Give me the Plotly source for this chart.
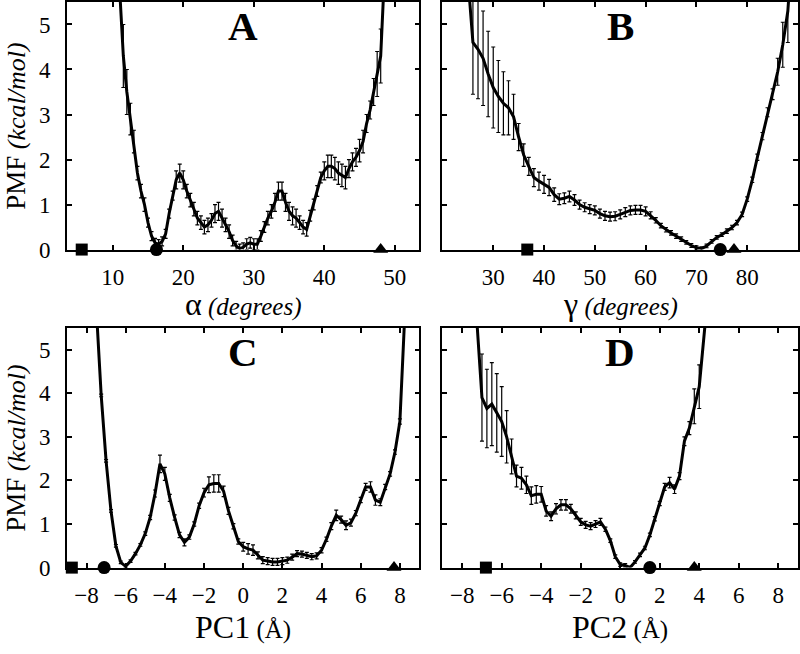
import plotly.graph_objects as go

# ---------------- data ----------------
alpha_x = [10.9, 11.5, 12.0, 12.5, 13.0, 13.5, 14.0, 14.5, 15.0, 15.5, 16.0, 16.5, 17.0, 17.5,
           18.0, 18.5, 19.0, 19.5, 20.0, 20.5, 21.0, 21.5, 22.0, 22.5, 23.0, 23.5, 24.0, 24.5,
           25.0, 25.5, 26.0, 26.5, 27.0, 27.5, 28.0, 28.5, 29.0, 29.5, 30.0, 30.5, 31.0, 31.5,
           32.0, 32.5, 33.0, 33.5, 34.0, 34.5, 35.0, 35.5, 36.0, 36.5, 37.0, 37.5, 38.0, 38.5,
           39.0, 39.5, 40.0, 40.5, 41.0, 41.5, 42.0, 42.5, 43.0, 43.5, 44.0, 44.5, 45.0, 45.5,
           46.0, 46.5, 47.0, 47.5, 48.0, 48.5]
alpha_pmf = [6.0, 4.3, 3.5, 2.9, 2.4, 1.7, 1.3, 1.0, 0.6, 0.3, 0.15, 0.12, 0.18, 0.35,
             0.8, 1.2, 1.55, 1.7, 1.55, 1.3, 1.1, 0.9, 0.7, 0.6, 0.5, 0.55, 0.65, 0.8,
             0.85, 0.7, 0.55, 0.4, 0.2, 0.08, 0.02, 0.05, 0.12, 0.15, 0.12, 0.12, 0.3, 0.5,
             0.7, 0.85, 1.05, 1.3, 1.3, 1.05, 0.85, 0.75, 0.7, 0.6, 0.5, 0.45, 0.75, 1.0,
             1.3, 1.6, 1.75, 1.85, 1.85, 1.8, 1.7, 1.65, 1.6, 1.8, 1.95, 2.05, 2.2, 2.4,
             2.8, 3.1, 3.5, 3.9, 4.3, 6.0]
alpha_err = [0.0, 0.7, 0.5, 0.35, 0.25, 0.15, 0.15, 0.15, 0.1, 0.1, 0.1, 0.1, 0.1, 0.1,
             0.1, 0.1, 0.2, 0.2, 0.2, 0.15, 0.15, 0.15, 0.15, 0.15, 0.15, 0.15, 0.15, 0.2,
             0.2, 0.2, 0.15, 0.15, 0.12, 0.1, 0.1, 0.1, 0.12, 0.12, 0.12, 0.12, 0.12, 0.12,
             0.15, 0.15, 0.2, 0.2, 0.2, 0.2, 0.2, 0.2, 0.2, 0.15, 0.15, 0.15, 0.12, 0.12,
             0.12, 0.12, 0.2, 0.25, 0.25, 0.25, 0.25, 0.25, 0.25, 0.2, 0.2, 0.2, 0.25, 0.25,
             0.2, 0.2, 0.3, 0.5, 0.6, 0.0]
alpha_marks = [5.6, 16.2, 48.0]   # square, circle, triangle

gamma_x = [24.9, 26, 27, 28, 29, 30, 31, 32, 33, 34, 35, 36, 37, 38, 39, 40, 41, 42, 43, 44,
           45, 46, 47, 48, 49, 50, 51, 52, 53, 54, 55, 56, 57, 58, 59, 60, 61, 62, 63, 64,
           65, 66, 67, 68, 69, 70, 71, 72, 73, 74, 75, 76, 77, 78, 79, 80, 81, 82, 83, 84,
           85, 86, 87, 88, 88.6]
gamma_pmf = [6.2, 4.6, 4.45, 4.25, 3.9, 3.6, 3.4, 3.25, 3.15, 2.95, 2.5, 2.1, 1.85, 1.6, 1.52,
             1.45, 1.38, 1.22, 1.12, 1.14, 1.18, 1.1, 1.0, 0.94, 0.9, 0.87, 0.8, 0.75, 0.73,
             0.74, 0.78, 0.83, 0.87, 0.88, 0.88, 0.85, 0.76, 0.65, 0.53, 0.44, 0.37, 0.3, 0.23,
             0.16, 0.09, 0.04, 0.02, 0.08, 0.18, 0.27, 0.33, 0.41, 0.49, 0.6, 0.78, 1.12, 1.55,
             2.05, 2.52, 3.05, 3.45, 3.95, 4.55, 5.3, 6.3]
gamma_err = [0.0, 1.15, 1.1, 1.05, 0.95, 0.9, 0.8, 0.7, 0.6, 0.5, 0.3, 0.25, 0.2, 0.2, 0.2,
             0.2, 0.18, 0.15, 0.12, 0.12, 0.12, 0.12, 0.1, 0.1, 0.1, 0.1, 0.1, 0.1, 0.1, 0.1,
             0.1, 0.1, 0.1, 0.1, 0.1, 0.1, 0.08, 0.06, 0.05, 0.05, 0.05, 0.05, 0.05, 0.04,
             0.04, 0.04, 0.04, 0.04, 0.04, 0.04, 0.04, 0.05, 0.05, 0.05, 0.05, 0.05, 0.06,
             0.07, 0.08, 0.1, 0.12, 0.3, 0.5, 0.7, 0.0]
gamma_marks = [36.7, 74.7, 77.4]

pc1_x = [-7.5, -7.25, -7.0, -6.75, -6.5, -6.25, -6.0, -5.75, -5.5, -5.25, -5.0, -4.75, -4.5,
         -4.25, -4.0, -3.75, -3.5, -3.25, -3.0, -2.75, -2.5, -2.25, -2.0, -1.75, -1.5, -1.25,
         -1.0, -0.75, -0.5, -0.25, 0.0, 0.25, 0.5, 0.75, 1.0, 1.25, 1.5, 1.75, 2.0, 2.25, 2.5,
         2.75, 3.0, 3.25, 3.5, 3.75, 4.0, 4.25, 4.5, 4.75, 5.0, 5.25, 5.5, 5.75, 6.0, 6.25,
         6.5, 6.75, 7.0, 7.25, 7.5, 7.75, 8.0, 8.25]
pc1_pmf = [5.95, 3.95, 2.45, 1.3, 0.5, 0.12, 0.03, 0.15, 0.32, 0.52, 0.78, 1.15, 1.7,
           2.38, 2.15, 1.6, 1.15, 0.75, 0.58, 0.7, 1.0, 1.42, 1.72, 1.9, 1.93, 1.93,
           1.75, 1.3, 0.95, 0.6, 0.48, 0.43, 0.4, 0.28, 0.17, 0.15, 0.13, 0.13, 0.15, 0.17, 0.24,
           0.32, 0.31, 0.28, 0.25, 0.27, 0.4, 0.65, 0.95, 1.2, 1.1, 0.97, 1.03, 1.25, 1.55, 1.85,
           1.85, 1.55, 1.5, 1.85, 2.15, 2.65, 3.35, 5.8]
pc1_err = [0.0, 0.03, 0.03, 0.03, 0.03, 0.03, 0.03, 0.03, 0.03, 0.03, 0.04, 0.05, 0.08,
           0.2, 0.15, 0.08, 0.06, 0.06, 0.08, 0.05, 0.05, 0.06, 0.1, 0.18, 0.2, 0.2,
           0.12, 0.08, 0.06, 0.06, 0.1, 0.12, 0.12, 0.08, 0.08, 0.08, 0.08, 0.08, 0.08, 0.07, 0.07,
           0.07, 0.07, 0.07, 0.07, 0.07, 0.06, 0.05, 0.08, 0.12, 0.08, 0.1, 0.08, 0.06, 0.06, 0.08,
           0.12, 0.12, 0.08, 0.06, 0.05, 0.05, 0.06, 0.0]
pc1_marks = [-8.75, -7.1, 7.7]

pc2_x = [-7.25, -7.0, -6.75, -6.5, -6.25, -6.0, -5.75, -5.5, -5.25, -5.0, -4.75, -4.5, -4.25,
         -4.0, -3.75, -3.5, -3.25, -3.0, -2.75, -2.5, -2.25, -2.0, -1.75, -1.5, -1.25, -1.0,
         -0.75, -0.5, -0.25, 0.0, 0.25, 0.5, 0.75, 1.0, 1.25, 1.5, 1.75, 2.0, 2.25, 2.5, 2.75,
         3.0, 3.25, 3.5, 3.75, 4.0, 4.3]
pc2_pmf = [5.6, 3.9, 3.65, 3.75, 3.55, 3.35, 3.0, 2.55, 2.1, 2.05, 1.9, 1.65, 1.68,
           1.68, 1.3, 1.18, 1.35, 1.44, 1.44, 1.35, 1.2, 1.05, 0.98, 0.95, 1.0, 1.05,
           0.88, 0.62, 0.25, 0.07, 0.05, 0.0, 0.13, 0.29, 0.45, 0.75, 1.12, 1.47, 1.85, 1.95, 1.8,
           2.1, 2.9, 3.2, 3.7, 4.15, 5.6]
pc2_err = [0.0, 1.0, 0.9, 0.95, 0.9, 0.8, 0.6, 0.4, 0.25, 0.25, 0.2, 0.2, 0.2,
           0.18, 0.12, 0.1, 0.12, 0.12, 0.12, 0.1, 0.08, 0.08, 0.08, 0.08, 0.08, 0.08,
           0.05, 0.04, 0.04, 0.04, 0.04, 0.03, 0.03, 0.04, 0.04, 0.04, 0.05, 0.05, 0.08, 0.12, 0.1,
           0.08, 0.1, 0.15, 0.4, 0.5, 0.0]
pc2_marks = [-6.8, 1.5, 3.75]

alpha_ticks = [10, 20, 30, 40, 50]
gamma_ticks = [30, 40, 50, 60, 70, 80]
pc_ticks = [-8, -6, -4, -2, 0, 2, 4, 6, 8]
pmf_ticks = [0, 1, 2, 3, 4, 5]

# ---------------- layout ----------------
W, H = 800, 654
FONT = "Liberation Serif"


def fx(p):
    return p / W


def fy(p):
    return 1 - p / H


panels = [
    dict(x=alpha_x, y=alpha_pmf, e=alpha_err, m=alpha_marks, xr=[3.5, 53.5], ticks=alpha_ticks,
         dx=(67, 420), dy=(1, 254), letter="A", ylab=True, ty=310,
         title='<span style="font-size:32px">α</span> <i>(degrees)</i>'),
    dict(x=gamma_x, y=gamma_pmf, e=gamma_err, m=gamma_marks, xr=[20, 90], ticks=gamma_ticks,
         dx=(443, 799), dy=(1, 254), letter="B", ylab=False, ty=310,
         title='<span style="font-size:32px">γ</span> <i>(degrees)</i>'),
    dict(x=pc1_x, y=pc1_pmf, e=pc1_err, m=pc1_marks, xr=[-9, 9], ticks=pc_ticks,
         dx=(67, 420), dy=(334, 579), letter="C", ylab=True, ty=640,
         title='<span style="font-size:32px">PC1</span> (Å)'),
    dict(x=pc2_x, y=pc2_pmf, e=pc2_err, m=pc2_marks, xr=[-9, 9], ticks=pc_ticks,
         dx=(443, 799), dy=(334, 579), letter="D", ylab=False, ty=640,
         title='<span style="font-size:32px">PC2</span> (Å)'),
]

fig = go.Figure()
layout = dict(
    width=W, height=H,
    margin=dict(l=0, r=0, t=0, b=0, pad=0),
    paper_bgcolor="white", plot_bgcolor="white",
    showlegend=False,
    font=dict(family=FONT, size=23, color="black"),
)
annotations = []

for i, p in enumerate(panels, start=1):
    xa = "x" if i == 1 else f"x{i}"
    ya = "y" if i == 1 else f"y{i}"
    fig.add_trace(go.Scatter(
        x=p["x"], y=p["y"], mode="lines", xaxis=xa, yaxis=ya,
        line=dict(color="black", width=3),
        error_y=dict(type="data", array=p["e"], visible=True, color="black",
                     thickness=1.2, width=2),
    ))
    fig.add_trace(go.Scatter(
        x=p["m"], y=[0, 0, 0], mode="markers", xaxis=xa, yaxis=ya, cliponaxis=False,
        opacity=1,
        marker=dict(symbol=["square", "circle", "triangle-up"], size=[12, 13, 13],
                    color="#000000", opacity=1, line=dict(width=0)),
    ))
    key_x = "xaxis" if i == 1 else f"xaxis{i}"
    key_y = "yaxis" if i == 1 else f"yaxis{i}"
    layout[key_x] = dict(
        domain=[fx(p["dx"][0]), fx(p["dx"][1])], range=p["xr"], anchor=ya,
        tickmode="array", tickvals=p["ticks"],
        ticktext=[str(t).replace("-", "\u2212") for t in p["ticks"]],
        ticks="inside", ticklen=5, tickwidth=1.5, tickcolor="black",
        showline=True, linecolor="black", linewidth=1.5, mirror="ticks",
        showgrid=False, zeroline=False, ticklabelstandoff=6,
        tickfont=dict(family=FONT, size=23),
    )
    layout[key_y] = dict(
        domain=[fy(p["dy"][1]), fy(p["dy"][0])], range=[0, 5.5], anchor=xa,
        tickmode="array", tickvals=pmf_ticks, showticklabels=p["ylab"],
        ticks="inside", ticklen=5, tickwidth=1.5, tickcolor="black",
        showline=True, linecolor="black", linewidth=1.5, mirror="ticks",
        showgrid=False, zeroline=False, ticklabelstandoff=10,
        tickfont=dict(family=FONT, size=23),
    )
    cx = fx((p["dx"][0] + p["dx"][1]) / 2)
    annotations.append(dict(
        x=cx, y=fy(p["dy"][0] + 25), xref="paper", yref="paper", showarrow=False,
        text=f"<b>{p['letter']}</b>", font=dict(family=FONT, size=41, color="black"),
        xanchor="center", yanchor="middle"))
    annotations.append(dict(
        x=cx, y=fy(p["ty"]), xref="paper", yref="paper", showarrow=False,
        text=p["title"], font=dict(family=FONT, size=25, color="black"),
        xanchor="center", yanchor="middle"))
    if p["ylab"]:
        annotations.append(dict(
            x=fx(16), y=fy((p["dy"][0] + p["dy"][1]) / 2), xref="paper", yref="paper",
            showarrow=False, textangle=-90,
            text='<span style="font-size:27px">PMF</span> <i>(kcal/mol)</i>',
            font=dict(family=FONT, size=26, color="black"),
            xanchor="center", yanchor="middle"))

layout["annotations"] = annotations
fig.update_layout(**layout)
fig.write_html(
    "out.html",
    config={"displayModeBar": False},
    post_script="document.body.style.margin='0';document.body.style.padding='0';"
                "document.body.style.overflow='hidden';",
)
